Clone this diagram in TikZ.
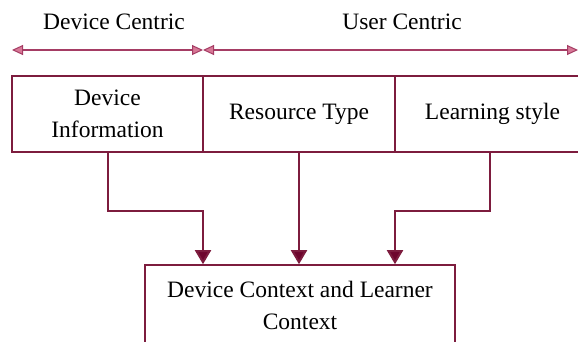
\documentclass[tikz,border=0pt]{standalone}
\usepackage{fontspec}
\setmainfont{Liberation Serif}
\usetikzlibrary{arrows.meta}
\definecolor{maroon}{RGB}{125,28,62}
\definecolor{darkmaroon}{RGB}{110,5,45}
\definecolor{topline}{RGB}{165,60,100}
\definecolor{tipfill}{RGB}{215,120,150}
\tikzset{
  lbl/.style={font=\fontsize{23.5}{32}\selectfont, align=center, inner sep=0pt},
  boxnode/.style={draw=maroon, line width=1.6pt, fill=white, font=\fontsize{23.5}{32}\selectfont, align=center, inner sep=0pt},
  conn/.style={draw=maroon, line width=2pt, -{Triangle[length=14pt,width=16pt,fill=darkmaroon]}},
  toparrow/.style={draw=topline, line width=2.5pt,
    {Triangle[length=11pt,width=10pt,fill=tipfill,line width=1pt]}-{Triangle[length=11pt,width=10pt,fill=tipfill,line width=1pt]}}
}
\begin{document}
\begin{tikzpicture}[x=1pt,y=-1pt]
\clip (0,0) rectangle (578,341);
\fill[white] (0,0) rectangle (578,341);
% labels
\node[lbl] (dc) at (114,22) {Device Centric};
\node[lbl] (uc) at (402,22) {User Centric};
% top arrows
\coordinate (L) at (12,50);
\coordinate (M) at (203,50);
\coordinate (R) at (578,50);
\draw[toparrow] (L) -- (M);
\draw[toparrow] (M) -- (R);
% top boxes
\node[boxnode, minimum width=191pt, minimum height=76pt] (devinfo) at (107.5,114) {Device\\Information};
\node[boxnode, minimum width=192pt, minimum height=76pt] (restype) at (299,114) {Resource Type};
\node[boxnode, minimum width=195pt, minimum height=76pt] (learn) at (492.5,114) {Learning style};
% bottom box
\node[boxnode, minimum width=310pt, minimum height=80pt] (ctx) at (300,305) {Device Context and Learner\\Context};
% connectors
\draw[conn] (devinfo.south) -- ++(0,58) -| ([xshift=-97pt]ctx.north);
\draw[conn] (restype.south) -- (restype.south |- ctx.north);
\draw[conn] ([xshift=-2.5pt]learn.south) -- ++(0,58) -| ([xshift=95pt]ctx.north);
\end{tikzpicture}
\end{document}
